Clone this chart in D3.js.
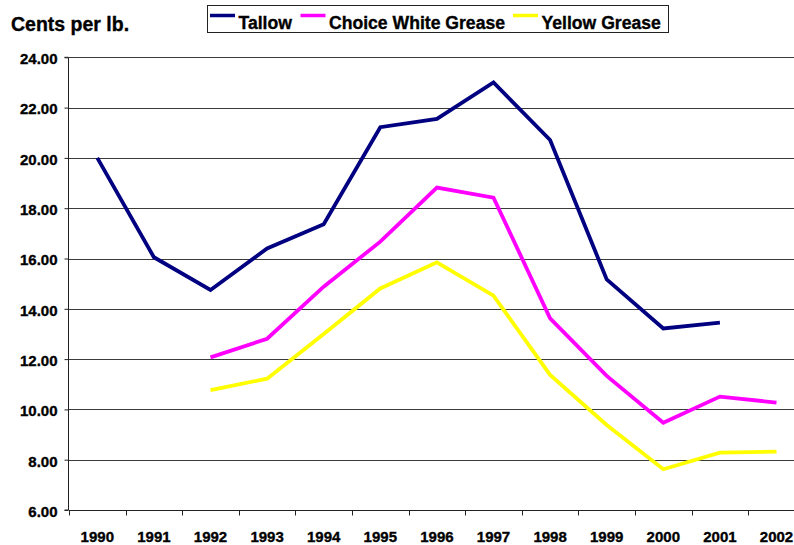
<!DOCTYPE html>
<html>
<head>
<meta charset="utf-8">
<script src="https://cdn.jsdelivr.net/npm/d3@7"></script>
<style>
  html, body { margin: 0; padding: 0; background: #fff; }
  svg { display: block; font-family: "Liberation Sans", Arial, sans-serif; font-weight: bold; }
  svg text { stroke: #000; stroke-width: 0.35px; fill: #000; }
</style>
</head>
<body>
<svg id="chart" width="794" height="545"></svg>
<script>
const years = ["1990","1991","1992","1993","1994","1995","1996","1997","1998","1999","2000","2001","2002"];
const tallow = [20.00, 16.05, 14.75, 16.40, 17.36, 21.22, 21.55, 23.00, 20.71, 15.17, 13.22, 13.45, null];
const choiceWhiteGrease = [null, null, 12.07, 12.81, 14.88, 16.67, 18.82, 18.42, 13.62, 11.33, 9.47, 10.51, 10.27];
const yellowGrease = [null, null, 10.77, 11.22, 13.00, 14.81, 15.85, 14.52, 11.37, 9.38, 7.62, 8.28, 8.32];
const seriesNames = ["Tallow", "Choice White Grease", "Yellow Grease"];
const yTicks = [6, 8, 10, 12, 14, 16, 18, 20, 22, 24];
const yAxisTitle = "Cents per lb.";

const colors = ["#000080", "#FF00FF", "#FFFF00"];
const seriesValues = [tallow, choiceWhiteGrease, yellowGrease];

const svg = d3.select("#chart");
const plotLeft = 69, bandW = 56.6, plotTop = 57.3, plotBottom = 510;
const x = d3.scaleBand().domain(years).range([plotLeft, plotLeft + bandW * years.length]).padding(0);
const y = d3.scaleLinear().domain([6, 24]).range([plotBottom, plotTop]);

// gridlines
svg.append("g").selectAll("line").data(yTicks.filter(t => t > 6)).join("line")
  .attr("x1", plotLeft).attr("x2", plotLeft + bandW * years.length)
  .attr("y1", d => Math.round(y(d)) + 0.5).attr("y2", d => Math.round(y(d)) + 0.5)
  .attr("stroke", "#3a3a3a").attr("stroke-width", 1);

// y axis
const yAxis = d3.axisLeft(y).tickValues(yTicks).tickFormat(d3.format(".2f")).tickSize(4).tickPadding(7);
const gy = svg.append("g").attr("transform", `translate(${plotLeft - 0.5},0)`).call(yAxis);
gy.select(".domain").attr("stroke", "#222").attr("d", `M-4,${y(24)}H0V${plotBottom}H-4`);
gy.selectAll(".tick line").attr("stroke", "#222");
gy.selectAll("text").attr("font-size", 15).attr("font-weight", "bold")
  .attr("font-family", "Liberation Sans, Arial, sans-serif").attr("dy", "0.42em");

// x axis
const xAxis = d3.axisBottom(x).tickSize(0).tickPadding(0);
const gx = svg.append("g").attr("transform", `translate(0,${plotBottom + 0.5})`).call(xAxis);
gx.select(".domain").attr("stroke", "#222").attr("d", `M${plotLeft},0H${plotLeft + bandW * years.length}`);
gx.selectAll("text").attr("font-size", 15).attr("font-weight", "bold")
  .attr("font-family", "Liberation Sans, Arial, sans-serif").attr("y", 31).attr("dy", 0);
// category boundary ticks
gx.append("g").selectAll("line").data(years).join("line")
  .attr("x1", d => Math.round(x(d)) + 0.5).attr("x2", d => Math.round(x(d)) + 0.5)
  .attr("y1", 0).attr("y2", 5).attr("stroke", "#222");

// lines
const line = d3.line()
  .defined(d => d.v !== null)
  .x(d => x(d.year) + x.bandwidth() / 2)
  .y(d => y(d.v));

seriesValues.forEach((vals, i) => {
  const data = years.map((yr, j) => ({ year: yr, v: vals[j] }));
  svg.append("path").datum(data)
    .attr("fill", "none").attr("stroke", colors[i]).attr("stroke-width", 3.8)
    .attr("stroke-linejoin", "miter").attr("d", line);
});

// y axis title
svg.append("text").attr("x", 11).attr("y", 31).attr("font-size", 19.5)
  .text(yAxisTitle);

// legend
const lg = svg.append("g");
lg.append("rect").attr("x", 207.5).attr("y", 5.5).attr("width", 461).attr("height", 27)
  .attr("fill", "#fff").attr("stroke", "#222").attr("stroke-width", 1);
const legendX = [210, 300.5, 513];
seriesNames.forEach((name, i) => {
  lg.append("line").attr("x1", legendX[i]).attr("x2", legendX[i] + 25)
    .attr("y1", 15.5).attr("y2", 15.5).attr("stroke", colors[i]).attr("stroke-width", 3.5);
  lg.append("text").attr("x", legendX[i] + 28.5).attr("y", 29).attr("font-size", 17.6)
    .text(name);
});
</script>
</body>
</html>
